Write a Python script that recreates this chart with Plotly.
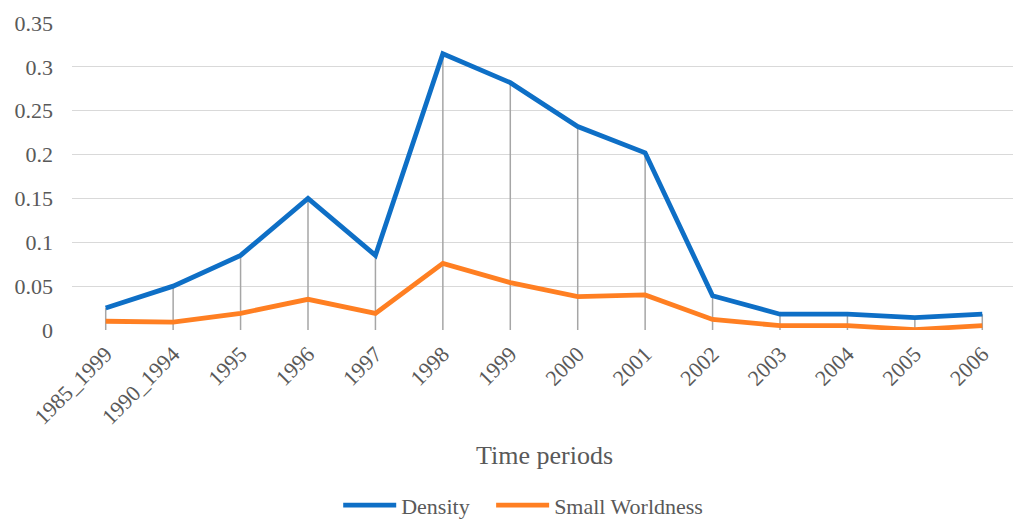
import plotly.graph_objects as go

periods = ["1985_1999", "1990_1994", "1995", "1996", "1997", "1998", "1999",
           "2000", "2001", "2002", "2003", "2004", "2005", "2006"]
density = [0.025, 0.05, 0.085, 0.15, 0.085, 0.315, 0.282, 0.232, 0.202,
           0.039, 0.018, 0.018, 0.014, 0.018]
small_worldness = [0.010, 0.009, 0.019, 0.035, 0.019, 0.076, 0.054, 0.038,
                   0.040, 0.012, 0.005, 0.005, 0.0005, 0.005]
y_ticks = [0, 0.05, 0.1, 0.15, 0.2, 0.25, 0.3, 0.35]
y_tick_labels = ["0", "0.05", "0.1", "0.15", "0.2", "0.25", "0.3", "0.35"]

FONT = "Tinos"
TEXT = "#595959"

idx = list(range(len(periods)))

# drop lines from the higher series down to the axis
drop_x, drop_y = [], []
for i, d, s in zip(idx, density, small_worldness):
    drop_x += [i, i, None]
    drop_y += [0, max(d, s), None]

fig = go.Figure()

fig.add_trace(go.Scatter(
    x=drop_x, y=drop_y, mode="lines",
    line=dict(color="#A6A6A6", width=1.5),
    showlegend=False, hoverinfo="skip"
))

fig.add_trace(go.Scatter(
    x=idx, y=density, mode="lines", name="Density",
    line=dict(color="#0E6FC6", width=4.8), legend="legend"
))

fig.add_trace(go.Scatter(
    x=idx, y=small_worldness, mode="lines", name="Small Worldness",
    line=dict(color="#FF7F22", width=4.8), legend="legend2"
))

legend_style = dict(orientation="h", xanchor="left", y=-0.571, yanchor="middle",
                    font=dict(family=FONT, size=22, color=TEXT), itemwidth=53,
                    bgcolor="rgba(0,0,0,0)")

# page body has an 8px margin, so the figure is offset by 8px
fig.update_layout(
    width=1013, height=512,
    margin=dict(l=64, r=5, t=15, b=190, autoexpand=False),
    paper_bgcolor="white", plot_bgcolor="white",
    font=dict(family=FONT, size=22, color=TEXT),
    showlegend=True,
    legend=dict(x=0.282, **legend_style),
    legend2=dict(x=0.444, **legend_style),
    annotations=[dict(
        text="Time periods", xref="paper", yref="paper", x=0.5, y=-0.41,
        xanchor="center", yanchor="middle", showarrow=False,
        font=dict(family=FONT, size=26, color=TEXT)
    )]
)

fig.update_xaxes(
    range=[-0.5, len(periods) - 0.5], automargin=False,
    tickmode="array", tickvals=idx, ticktext=periods, tickangle=-45,
    showgrid=False, zeroline=False, showline=False, ticks="",
    ticklabelstandoff=6,
    tickfont=dict(family=FONT, size=22, color=TEXT)
)

fig.update_yaxes(
    range=[0, 0.35], automargin=False,
    tickmode="array", tickvals=y_ticks, ticktext=y_tick_labels,
    showgrid=True, gridcolor="#D9D9D9", gridwidth=1.2,
    zeroline=False, showline=False, ticks="",
    ticklabelstandoff=18,
    tickfont=dict(family=FONT, size=22, color=TEXT)
)

fig.write_html("out.html")
